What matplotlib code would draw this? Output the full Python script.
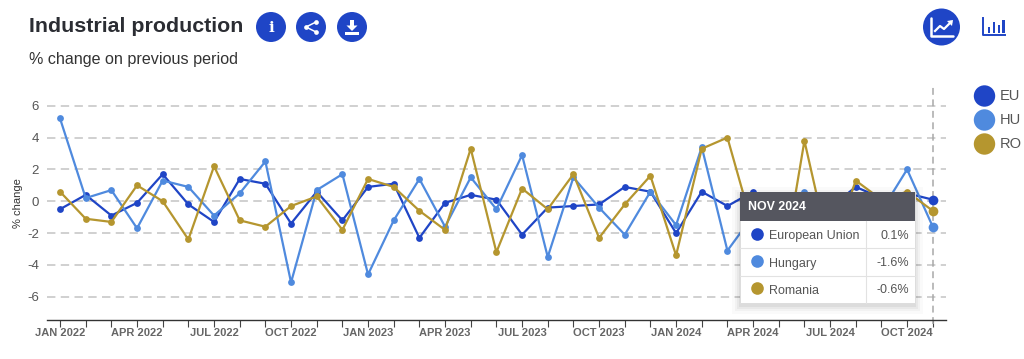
"""Industrial production: % change on previous period, EU / HU / RO."""

import matplotlib
matplotlib.use("Agg")
import matplotlib.pyplot as plt
from matplotlib.patches import Circle, Polygon, Rectangle

plt.rcParams["font.family"] = ["Liberation Sans", "DejaVu Sans"]

months = [
    "JAN 2022", "FEB 2022", "MAR 2022", "APR 2022", "MAY 2022", "JUN 2022", "JUL 2022",
    "AUG 2022", "SEP 2022", "OCT 2022", "NOV 2022", "DEC 2022", "JAN 2023", "FEB 2023",
    "MAR 2023", "APR 2023", "MAY 2023", "JUN 2023", "JUL 2023", "AUG 2023", "SEP 2023",
    "OCT 2023", "NOV 2023", "DEC 2023", "JAN 2024", "FEB 2024", "MAR 2024", "APR 2024",
    "MAY 2024", "JUN 2024", "JUL 2024", "AUG 2024", "SEP 2024", "OCT 2024", "NOV 2024",
]
eu = [
    -0.5, 0.4, -0.9, -0.1, 1.7, -0.2, -1.3, 1.4, 1.1, -1.4, 0.6, -1.2,
    0.9, 1.1, -2.3, -0.1, 0.4, 0.1, -2.1, -0.4, -0.3, -0.2, 0.9, 0.6,
    -2.0, 0.6, -0.3, 0.6, -0.1, 0.0, -0.4, 0.9, 0.2, 0.5, 0.1,
]
hu = [
    5.2, 0.2, 0.7, -1.7, 1.3, 0.9, -0.9, 0.5, 2.5, -5.1, 0.7, 1.7,
    -4.6, -1.2, 1.4, -1.6, 1.5, -0.5, 2.9, -3.5, 1.5, -0.4, -2.1, 0.6,
    -1.5, 3.4, -3.1, -0.9, -0.5, 0.6, -0.2, 0.0, -0.6, 2.0, -1.6,
]
ro = [
    0.6, -1.1, -1.3, 1.0, 0.0, -2.4, 2.2, -1.2, -1.6, -0.3, 0.3, -1.8,
    1.4, 0.9, -0.6, -1.8, 3.3, -3.2, 0.8, -0.5, 1.7, -2.3, -0.2, 1.6,
    -3.4, 3.3, 4.0, -1.7, -5.8, 3.8, -3.3, 1.3, 0.1, 0.6, -0.6,
]
series_names = ["EU", "HU", "RO"]
series_long = ["European Union", "Hungary", "Romania"]
series_values = [eu, hu, ro]
series_colors = ["#1f45c6", "#4f8ade", "#b5962f"]
y_ticks = [-6, -4, -2, 0, 2, 4, 6]

W, H = 1024, 359
TEXT = "#555555"
BLUE = "#1f45c6"

fig = plt.figure(figsize=(W / 100, H / 100), dpi=100, facecolor="white")

# chart area, placed by pixels: x 47..945, y 86..320
ax = fig.add_axes([47.2 / W, 1 - 320 / H, (945.6 - 47.2) / W, (320 - 86) / H])
ax.set_xlim(-0.5, 34.5)
ax.set_ylim(-7.46, 7.24)
for side in ["top", "right", "left"]:
    ax.spines[side].set_visible(False)
ax.spines["bottom"].set_color("#333333")
ax.spines["bottom"].set_linewidth(1.0)

ax.set_yticks(y_ticks)
ax.set_yticklabels([str(t) for t in y_ticks], fontsize=9.5, color=TEXT)
ax.tick_params(axis="y", length=0, pad=6)
ax.yaxis.grid(True, color="#c4c4c4", linestyle=(0, (5.5, 3.5)), linewidth=1.1)
ax.set_axisbelow(True)

x = list(range(len(months)))
ax.set_xticks(x[::3])
ax.set_xticklabels(months[::3], fontsize=8, color=TEXT, fontweight="bold", alpha=0.9)
ax.set_xticks(x, minor=True)
ax.tick_params(axis="x", which="both", length=5, width=0.8, color="#444444", pad=1)

ax.set_ylabel("% change", fontsize=8, color="#333333", labelpad=3)

# hover line on the last month
ax.axvline(x[-1], color="#a8a8a8", linestyle=(0, (4.5, 3)), linewidth=1.1, ymin=-0.015, clip_on=False, zorder=2)

for values, color in zip(series_values, series_colors):
    ax.plot(x, values, color=color, linewidth=1.6, marker="o", markersize=4.9,
            markeredgewidth=0, zorder=3)
    ax.plot(x[-1], values[-1], marker="o", color=color, markersize=7, markeredgewidth=0, zorder=4,
            clip_on=False)

# overlay in pixel coordinates for header, legend and tooltip
ov = fig.add_axes([0, 0, 1, 1], facecolor="none")
ov.set_xlim(0, W)
ov.set_ylim(H, 0)
ov.axis("off")

ov.text(29, 27, "Industrial production", fontsize=15.4, fontweight="bold", color="#2b2d33", va="center")
ov.text(29, 59.5, "% change on previous period", fontsize=11.6, color="#333333", va="center")

# header icon buttons
for cx in [271, 311, 352]:
    ov.add_patch(Circle((cx, 27), 15, color=BLUE, lw=0))
ov.text(271, 27.5, "i", fontsize=11, fontweight="bold", color="white", ha="center", va="center",
        family="DejaVu Serif")
ov.plot([316, 306, 316], [22, 27, 32], color="white", lw=1.1)
ov.plot([316, 306, 316], [22, 27, 32], "o", color="white", ms=3.4, mew=0)
ov.add_patch(Rectangle((350.2, 20), 3.6, 6, color="white", lw=0))
ov.add_patch(Polygon([[346.5, 25.5], [357.5, 25.5], [352, 31]], color="white", lw=0))
ov.add_patch(Rectangle((345, 31.5), 14, 3, color="white", lw=0))

# chart type switch
ov.add_patch(Circle((941.5, 27), 18.5, color=BLUE, lw=0))
ov.plot([931, 931, 953], [18, 36, 36], color="white", lw=1.8, solid_capstyle="round")
ov.plot([935, 940, 944, 951], [31, 26, 29, 22], color="white", lw=1.6)
ov.add_patch(Polygon([[947, 21], [953, 20], [952, 26]], color="white", lw=0))

ov.plot([983, 983, 1005], [18, 35, 35], color=BLUE, lw=1.4)
for bx, top in zip([989, 994, 999, 1003.5], [27, 22, 25, 19.5]):
    ov.add_patch(Rectangle((bx - 1.4, top), 2.8, 32.5 - top, color=BLUE, lw=0))

# legend
for name, color, ly in zip(series_names, series_colors, [96, 120, 144]):
    ov.add_patch(Circle((984.5, ly), 10.7, color=color, lw=0))
    ov.text(1000, ly, name, fontsize=10.5, color=TEXT, va="center")

# tooltip, last month values
for grow, alpha in zip([8, 5, 3, 1], [0.02, 0.03, 0.04, 0.05]):
    ov.add_patch(Rectangle((740 - grow, 192 + 3 - grow), 175 + 2 * grow, 111 + 2 * grow,
                           color="black", alpha=alpha, lw=0, zorder=5))
ov.add_patch(Rectangle((740.3, 192.3), 174.7, 110.7, facecolor="white", edgecolor="#dddddd", lw=0.7, zorder=6))
ov.add_patch(Rectangle((740.3, 192.3), 174.7, 29, color="#55565f", lw=0, zorder=7))
ov.text(748, 207, months[-1], fontsize=8.9, fontweight="bold", color="white", va="center", zorder=8)
ov.plot([740.3, 915], [248, 248], color="#e2e2e2", lw=0.8, zorder=7)
ov.plot([740.3, 915], [275.7, 275.7], color="#e2e2e2", lw=0.8, zorder=7)
ov.plot([865.7, 865.7], [221, 303], color="#e2e2e2", lw=0.8, zorder=7)
for name, values, color, ry in zip(series_long, series_values, series_colors, [234.5, 261.5, 288.5]):
    ov.add_patch(Circle((757.5, ry), 6.3, color=color, lw=0, zorder=8))
    ov.text(769, ry + 2, name, fontsize=9.0, color=TEXT, va="center", zorder=8)
    ov.text(909, ry + 1.5, f"{values[-1]:.1f}%", fontsize=9.0, color=TEXT, va="center", ha="right", zorder=8)

fig.savefig("out.png", dpi=100)
plt.close(fig)
